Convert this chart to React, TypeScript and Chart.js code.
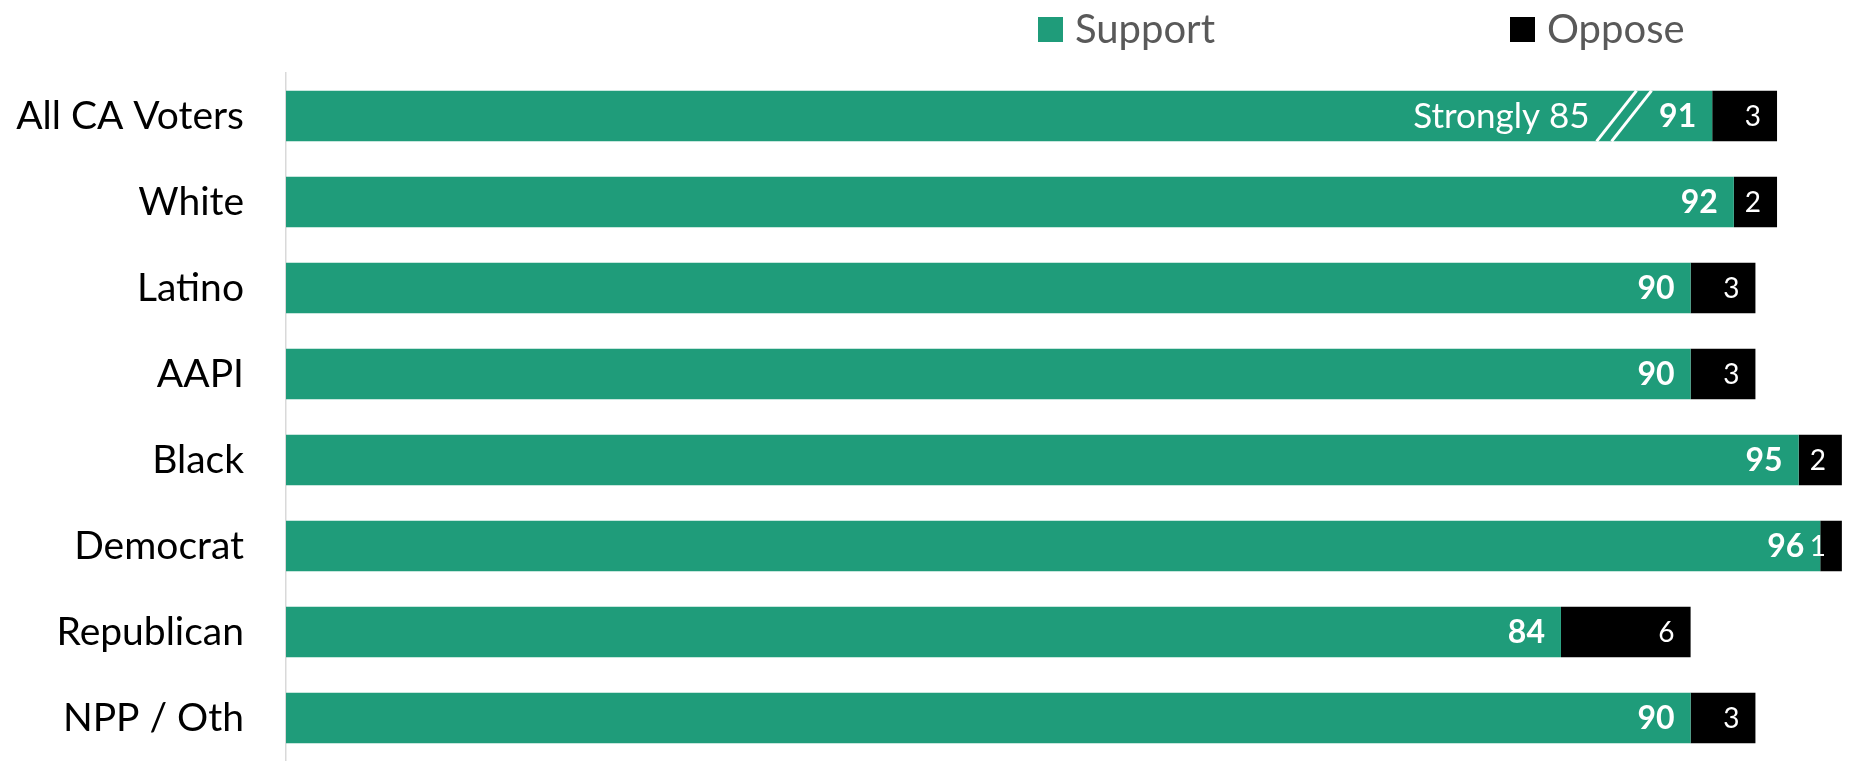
import React, { useEffect, useRef } from 'react';
import { Chart, registerables } from 'chart.js';

Chart.register(...registerables);

const categories = ['All CA Voters', 'White', 'Latino', 'AAPI', 'Black', 'Democrat', 'Republican', 'NPP / Oth'];
const support = [91, 92, 90, 90, 95, 96, 84, 90];
const oppose = [3, 2, 3, 3, 2, 1, 6, 3];
const seriesNames = ['Support', 'Oppose'];
const stronglyLabel = 'Strongly';
const stronglyValue = 85;
const xMin = 25;
const xMax = 97.33;

const GREEN = '#1f9c7a';
const BLACK = '#000000';
const FONT = 'Lato, "Open Sans", sans-serif';

const labelPlugin = {
  id: 'barLabels',
  afterDatasetsDraw(chart: any) {
    const ctx = chart.ctx;
    ctx.save();
    ctx.fillStyle = '#ffffff';
    ctx.textAlign = 'right';
    ctx.textBaseline = 'middle';
    chart.data.datasets.forEach((ds: any, di: number) => {
      const meta = chart.getDatasetMeta(di);
      meta.data.forEach((bar: any, i: number) => {
        ctx.font = di === 0 ? `bold 32px ${FONT}` : `28px ${FONT}`;
        ctx.fillText(String(ds.data[i]), bar.x - 16, bar.y + 1);
      });
    });
    // "Strongly 85" annotation with break marks on the first row
    const bar0 = chart.getDatasetMeta(0).data[0];
    const px = chart.scales.x.getPixelForValue(stronglyValue);
    ctx.font = `35px ${FONT}`;
    ctx.fillText(`${stronglyLabel} ${stronglyValue}`, px + 7, bar0.y + 1);
    const top = bar0.y - bar0.height / 2;
    const bot = bar0.y + bar0.height / 2;
    ctx.strokeStyle = '#ffffff';
    ctx.lineWidth = 3;
    [14, 29].forEach((o) => {
      ctx.beginPath();
      ctx.moveTo(px + o, bot);
      ctx.lineTo(px + o + 40, top);
      ctx.stroke();
    });
    ctx.restore();
  },
  afterDraw(chart: any) {
    const ctx = chart.ctx;
    ctx.save();
    const items = [
      { x: 1038, color: GREEN, text: seriesNames[0] },
      { x: 1510, color: BLACK, text: seriesNames[1] },
    ];
    ctx.font = `40px ${FONT}`;
    ctx.textAlign = 'left';
    ctx.textBaseline = 'alphabetic';
    items.forEach((it) => {
      ctx.fillStyle = it.color;
      ctx.fillRect(it.x, 17, 25, 25);
      ctx.fillStyle = '#595959';
      ctx.fillText(it.text, it.x + 37, 43);
    });
    ctx.restore();
  },
};

export default function App() {
  const ref = useRef<HTMLCanvasElement>(null);
  useEffect(() => {
    if (!ref.current) return;
    const chart = new Chart(ref.current, {
      type: 'bar',
      data: {
        labels: categories,
        datasets: [
          { label: seriesNames[0], data: support, backgroundColor: GREEN, barPercentage: 0.59, categoryPercentage: 1 },
          { label: seriesNames[1], data: oppose, backgroundColor: BLACK, barPercentage: 0.59, categoryPercentage: 1 },
        ],
      },
      options: {
        indexAxis: 'y',
        animation: false,
        responsive: false,
        maintainAspectRatio: false,
        devicePixelRatio: 1,
        layout: { padding: { top: 73, left: 0, right: 0, bottom: 0 } },
        plugins: { legend: { display: false }, tooltip: { enabled: false } },
        scales: {
          x: { stacked: true, min: xMin, max: xMax, display: false },
          y: {
            stacked: true,
            grid: { display: false, drawTicks: false },
            border: { display: true, color: '#d9d9d9', width: 1.5 },
            ticks: { color: '#000000', font: { family: FONT, size: 39 }, padding: 42 },
            afterFit: (s: any) => {
              s.width = 286;
              s.paddingTop = 0;
              s.paddingBottom = 0;
            },
          },
        },
      },
      plugins: [labelPlugin],
    });
    return () => chart.destroy();
  }, []);
  return (
    <div style={{ position: 'fixed', left: 0, top: 0, width: 1849, height: 761 }}>
      <canvas ref={ref} width={1849} height={761} style={{ display: 'block', width: 1849, height: 761 }} />
    </div>
  );
}
